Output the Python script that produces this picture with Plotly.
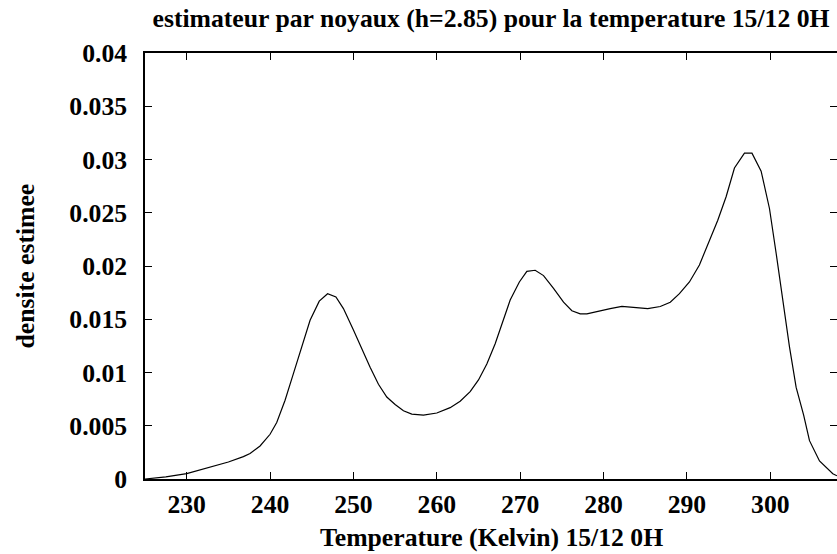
import plotly.graph_objects as go

temperature = [225.0, 227.5, 230.0, 232.8, 235.0, 236.8, 237.6, 238.8, 240.0, 240.8,
               241.8, 242.8, 243.8, 244.8, 245.9, 246.9, 247.9, 248.8, 250.0, 251.0,
               252.0, 253.0, 254.0, 255.0, 256.0, 257.0, 258.4, 260.0, 261.6, 262.8,
               264.0, 265.0, 266.0, 267.0, 268.0, 268.8, 269.9, 270.8, 271.8, 272.8,
               274.0, 275.2, 276.2, 277.2, 278.0, 279.6, 280.8, 282.2, 283.5, 285.3,
               286.8, 288.0, 289.1, 290.3, 291.5, 292.7, 293.7, 294.7, 295.7, 296.9,
               297.8, 298.9, 299.9, 300.7, 301.5, 302.3, 303.1, 304.0, 304.7, 305.9,
               307.5, 308.0]
densite = [0.0000, 0.0002, 0.0005, 0.0011, 0.0016, 0.0021, 0.0024, 0.0031, 0.0042, 0.0053,
           0.0074, 0.0099, 0.0124, 0.0149, 0.0167, 0.0174, 0.0171, 0.0160, 0.0140, 0.0122,
           0.0105, 0.0089, 0.0077, 0.0070, 0.0064, 0.0061, 0.0060, 0.0062, 0.0067, 0.0073,
           0.0082, 0.0093, 0.0108, 0.0127, 0.0149, 0.0168, 0.0185, 0.0195, 0.0196, 0.0191,
           0.0179, 0.0166, 0.0158, 0.0155, 0.0155, 0.0158, 0.0160, 0.0162, 0.0161, 0.0160,
           0.0162, 0.0166, 0.0174, 0.0185, 0.0201, 0.0223, 0.0243, 0.0265, 0.0292, 0.0306,
           0.0306, 0.0289, 0.0254, 0.0212, 0.0168, 0.0124, 0.0086, 0.0060, 0.0036, 0.0017,
           0.0005, 0.0003]

x_ticks = [230, 240, 250, 260, 270, 280, 290, 300]
y_ticks = [0, 0.005, 0.01, 0.015, 0.02, 0.025, 0.03, 0.035, 0.04]
y_tick_labels = ["0", "0.005", "0.01", "0.015", "0.02", "0.025", "0.03", "0.035", "0.04"]

title_text = "estimateur par noyaux (h=2.85) pour la temperature 15/12 0H"
x_title = "Temperature (Kelvin) 15/12 0H"
y_title = "densite estimee"

FONT = "Liberation Serif"
fs = 25.7

fig = go.Figure()
fig.add_trace(go.Scatter(x=temperature, y=densite, mode="lines",
                         line=dict(color="black", width=1.2), showlegend=False))

fig.update_layout(
    width=837, height=554,
    margin=dict(l=145, r=0, t=53, b=75, autoexpand=False),
    paper_bgcolor="white", plot_bgcolor="white",
    font=dict(family=FONT, size=fs, color="black", weight="bold"),
    title=dict(text="<b>" + title_text + "</b>", x=0.5, xref="paper", xanchor="center",
               y=1 - 18 / 554, yref="container", yanchor="middle",
               font=dict(family=FONT, size=fs, color="black")),
    xaxis=dict(range=[225, 308], tickvals=x_ticks, ticks="inside", ticklen=7,
               showline=True, linecolor="black", linewidth=1.5, mirror="allticks",
               showgrid=False, zeroline=False, tickcolor="black", tickwidth=1.2,
               ticklabelstandoff=1, automargin=False,
               tickfont=dict(family=FONT, size=fs, weight="bold")),
    yaxis=dict(range=[0, 0.04], tickvals=y_ticks, ticktext=y_tick_labels,
               ticks="inside", ticklen=7,
               showline=True, linecolor="black", linewidth=1.5, mirror="allticks",
               showgrid=False, zeroline=False, tickcolor="black", tickwidth=1.2,
               ticklabelstandoff=11, automargin=False,
               tickfont=dict(family=FONT, size=fs, weight="bold")),
    annotations=[
        dict(text="<b>" + x_title + "</b>", xref="paper", yref="paper",
             x=0.5, y=-(537 - 478.7) / 425.4, xanchor="center", yanchor="middle",
             showarrow=False, font=dict(family=FONT, size=fs, color="black")),
        dict(text="<b>" + y_title + "</b>", xref="paper", yref="paper",
             x=-(145 - 24.5) / 692, y=1 - (266 - 53.3) / 425.4, xanchor="center",
             yanchor="middle", textangle=-90, showarrow=False,
             font=dict(family=FONT, size=fs, color="black")),
    ],
)

fig.write_html("out.html", config={"displayModeBar": False},
               post_script="document.body.style.margin='0';document.body.style.padding='0';")
